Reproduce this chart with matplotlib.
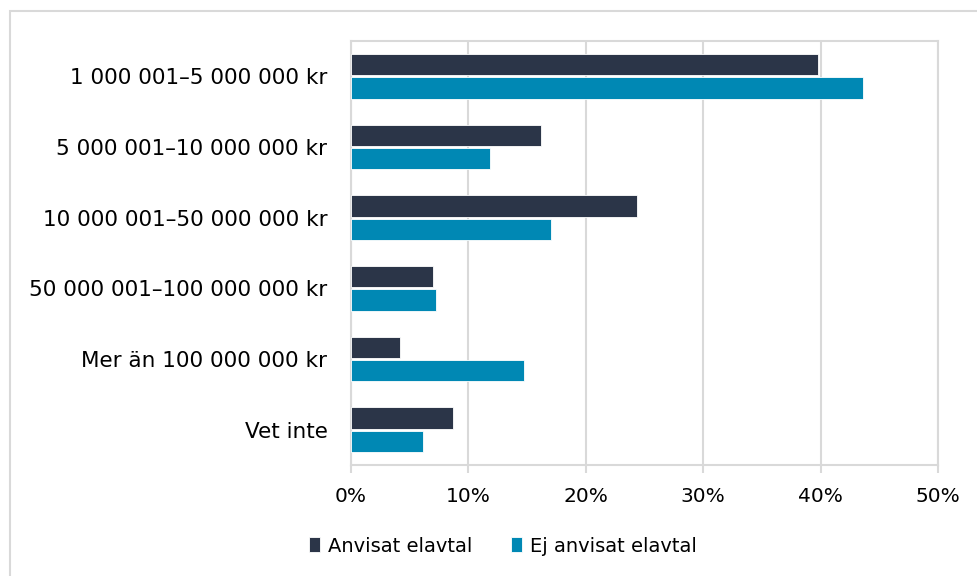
import matplotlib.pyplot as plt
import numpy as np
from matplotlib.patches import Rectangle

# data (percent)
categories = ["1 000 001\u20135 000 000 kr",
              "5 000 001\u201310 000 000 kr",
              "10 000 001\u201350 000 000 kr",
              "50 000 001\u2013100 000 000 kr",
              "Mer än 100 000 000 kr",
              "Vet inte"]
anvisat = [39.8, 16.2, 24.4, 7.0, 4.2, 8.7]
ej_anvisat = [43.6, 11.8, 17.0, 7.2, 14.7, 6.1]
series_names = ["Anvisat elavtal", "Ej anvisat elavtal"]
x_ticks = [0, 10, 20, 30, 40, 50]

dark_colour = "#2B3548"
blue_colour = "#0088B4"
grid_colour = "#D9D9D9"
font_size = 15.5

plt.rcParams["font.family"] = ["DejaVu Sans"]

fig = plt.figure(figsize=(9.78, 5.76), dpi=100)
fig.add_artist(Rectangle((10 / 978, -0.1), 1.2, 1 - 11 / 576 + 0.1, transform=fig.transFigure,
                         fill=False, edgecolor=grid_colour, linewidth=1.5))

ax = fig.add_axes([351 / 978, 1 - 465 / 576, 587 / 978, 424 / 576])
y = np.arange(len(categories))
bar_height = 0.3
offset = 0.165
ax.barh(y - offset, anvisat, height=bar_height, color=dark_colour, edgecolor="white", linewidth=0.6,
        label=series_names[0], zorder=3)
ax.barh(y + offset, ej_anvisat, height=bar_height, color=blue_colour, edgecolor="white", linewidth=0.6,
        label=series_names[1], zorder=3)

ax.set_xlim(0, 50)
ax.set_ylim(len(categories) - 0.5, -0.5)
ax.set_xticks(x_ticks)
ax.set_xticklabels([f"{t}%" for t in x_ticks], fontsize=14.5)
ax.set_yticks(y)
ax.set_yticklabels(categories, fontsize=font_size)
ax.tick_params(axis="y", length=0, pad=17)
ax.tick_params(axis="x", length=6, width=1.5, color=grid_colour, pad=10)
ax.xaxis.grid(True, color=grid_colour, linewidth=1.5, zorder=0)
ax.set_axisbelow(True)
for side in ["top", "right", "bottom", "left"]:
    ax.spines[side].set_color(grid_colour)
    ax.spines[side].set_linewidth(1.5)

ax.legend(loc="center", bbox_to_anchor=(503 / 978, 1 - 546 / 576), bbox_transform=fig.transFigure,
          ncol=2, frameon=False, fontsize=14, handlelength=0.55, handleheight=0.8,
          handletextpad=0.4, columnspacing=2.0)

fig.savefig("out.png", dpi=100)
